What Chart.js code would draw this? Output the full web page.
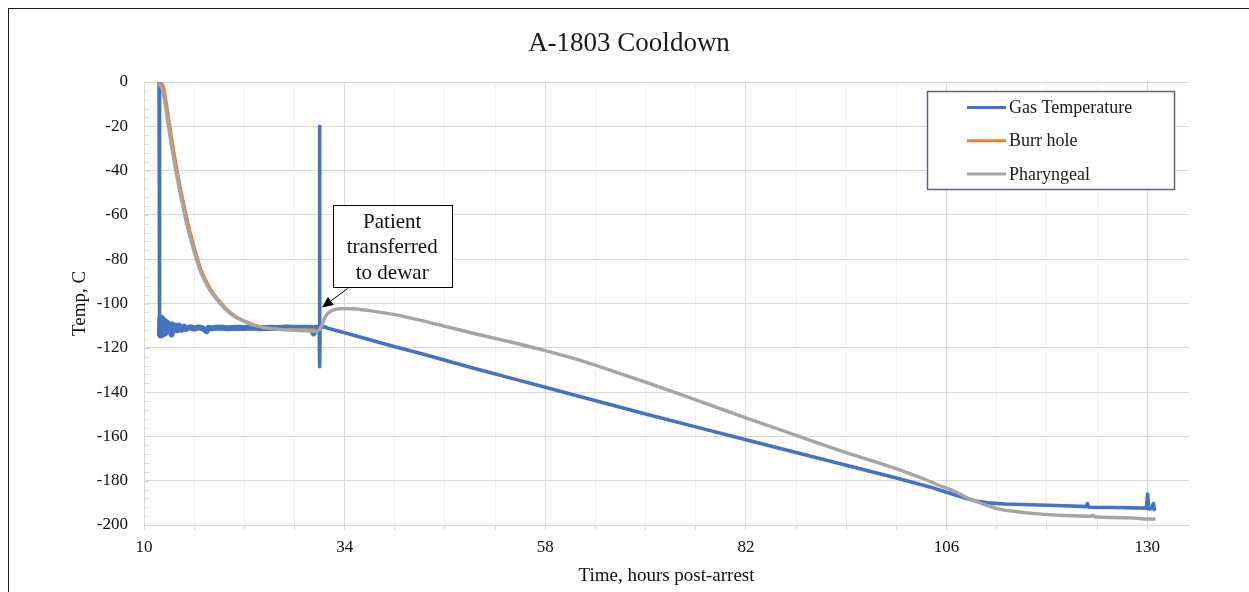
<!DOCTYPE html>
<html><head><meta charset="utf-8">
<script src="https://cdn.jsdelivr.net/npm/chart.js@4.4.1/dist/chart.umd.min.js"></script>
<style>
html,body{margin:0;padding:0;background:#fff;overflow:hidden;}
#wrap{position:relative;width:1249px;height:592px;overflow:hidden;}
#frame{position:absolute;left:8px;top:8px;width:1300px;height:700px;border:1.5px solid #1a1a1a;box-sizing:border-box;}
canvas{position:absolute;left:0;top:0;}
</style></head><body>
<div id="wrap"><div id="frame"></div><canvas id="c" width="1249" height="592"></canvas></div>
<script>
// ---- Data (hours post-arrest, temperature in C) ----
const chartTitle = 'A-1803 Cooldown';
const xTitle = 'Time, hours post-arrest';
const yTitle = 'Temp, C';
const seriesNames = ['Gas Temperature', 'Burr hole', 'Pharyngeal'];

const gasHours = [
  11.80,11.83,11.86,11.9,11.95,12.0,12.05,12.1,12.15,12.2,
  12.25,12.3,12.35,12.4,12.5,12.6,12.7,12.8,12.9,13.0,
  13.1,13.2,13.3,13.4,13.6,13.8,14.0,14.2,14.5,14.8,
  15.0,15.5,16.0,16.5,17.0,17.5,17.7,18.0,19.0,20.0,
  21.0,22.0,23.0,24.0,25.0,26.0,27.0,28.0,29.0,30.0,
  30.3,30.5,30.8,30.95,31.0,31.03,31.06,31.3,31.6,32,
  34,37,40,43,46,50,54,58,62,64.5,
  70,76,82,88,94,100,104,106,108,109.5,
  111,113,117,120,122.7,122.85,123.0,126,129.9,130.05,
  130.2,130.5,130.75,130.85,131.0];
const gasTemps = [
  0,-60,-104,-114.5,-106.5,-114.5,-106.5,-114,-107,-114,
  -107.5,-113.5,-107.5,-113.5,-108,-113,-108.5,-112.5,-109,-112.5,
  -109.5,-112,-114,-109.5,-112,-110,-112,-110,-111.8,-110.5,
  -111.5,-110.7,-111.3,-110.8,-111.2,-112.5,-111,-111.2,-110.8,-111.2,
  -110.9,-111.1,-110.8,-111.2,-110.9,-111.1,-110.8,-111,-110.9,-111,
  -113.5,-111,-111,-110.5,-20,-128.5,-110,-110.8,-110.5,-111.2,
  -113.2,-116.4,-119.5,-122.5,-125.6,-129.8,-133.8,-137.8,-141.9,-144.4,
  -149.9,-155.7,-161.5,-167.3,-173,-178.8,-182.8,-185.2,-187.6,-189.2,
  -190,-190.5,-191,-191.3,-191.7,-190.3,-192,-192.1,-192.4,-186,
  -192.8,-192.5,-190.3,-193,-192.7];

const burrHours = [12.0,12.2,12.35,12.6,13.0,13.5,14.0,14.3,14.5,15.0,15.3,15.5,16.0,16.3,16.5,17.0,17.5,18.0,19.0,20.0,21.0,22.0,23.0,23.5,24.5,26.2,28.0,30.5];
const burrTemps = [-0.5,-1,-2,-7,-17,-29,-40,-46,-50,-58.5,-64,-67,-74,-78,-80.5,-86,-90,-93.5,-98.6,-102.8,-105.8,-107.8,-109.3,-110,-110.8,-111.6,-111.7,-111.8];

const pharHours = [11.7,11.9,12.15,12.4,12.8,13.3,13.8,14.1,14.3,14.8,15.1,15.3,15.8,16.1,16.3,16.8,17.3,17.8,18.8,19.8,20.8,21.8,22.8,23.8,25,26.5,28,29.5,30.6,30.9,31.2,31.5,31.8,32.2,32.8,33.8,35,37,40,43,46,50,54,58,62,64.5,70,76,82,88,94,100.3,103,105.3,106.5,107.5,108.5,109.3,110.2,111,112.3,114,117,120,123.3,123.5,123.7,126,128.5,129.7,131];
const pharTemps = [-0.5,-1.5,-3,-7,-17,-29,-40,-46,-50,-58.5,-64,-67,-74,-78,-80.5,-86,-90,-93.5,-98.6,-102.8,-105.8,-107.8,-109.4,-110.4,-111.2,-111.8,-112.1,-112.3,-112.5,-112,-110.5,-107.5,-105.3,-103.8,-102.8,-102.3,-102.4,-103.2,-105,-107.5,-110.3,-114,-117.5,-121.3,-125.5,-128.5,-135.5,-143.5,-151.6,-159.5,-167.3,-175,-178.8,-182.4,-184,-185.8,-187.8,-189,-190.3,-191.4,-192.8,-193.8,-195,-195.7,-196.1,-195.6,-196.3,-196.6,-196.9,-197.3,-197.3];

// annotation, in data units
const noteLines = ['Patient', 'transferred', 'to dewar'];
const noteBox = {x0: 32.58, x1: 46.8, y0: -55.7, y1: -92.8};
const noteArrowFrom = {x: 34.37, y: -93.2};
const noteArrowTo = {x: 31.3, y: -101.8};

const xMin = 10, xMax = 135, xStep = 6, xLabelStep = 24;
const yMin = -200, yMax = 0, yStep = 4, yLabelStep = 20;
// hours range in which the gas reading is a noisy, thick band
const gasNoisyFrom = 11.88, gasNoisyTo = 30.96;

function pts(xs, ys) { return xs.map((x, i) => ({x: x, y: ys[i]})); }

const SERIF = "'Liberation Serif', 'Times New Roman', serif";

const titlePlugin = {
  id: 'titleText',
  afterDraw(chart) {
    const ctx = chart.ctx;
    ctx.save();
    ctx.font = '27px ' + SERIF;
    ctx.fillStyle = '#1a1a1a';
    ctx.textAlign = 'center';
    ctx.textBaseline = 'middle';
    ctx.fillText(chartTitle, 629, 44);
    ctx.restore();
  }
};

const minorTicks = {
  id: 'minorTicks',
  beforeDatasetsDraw(chart) {
    const ctx = chart.ctx, y = chart.scales.y, a = chart.chartArea;
    ctx.save();
    ctx.strokeStyle = '#d9d9d9';
    ctx.lineWidth = 1;
    y.ticks.forEach(t => {
      const py = Math.round(y.getPixelForValue(t.value)) + 0.5;
      ctx.beginPath(); ctx.moveTo(a.left, py); ctx.lineTo(a.left + 5, py); ctx.stroke();
    });
    ctx.restore();
  }
};

const legendBox = {
  id: 'legendBox',
  afterDatasetsDraw(chart) {
    const ctx = chart.ctx;
    const L = 927.5, T = 91.5, W = 247, H = 98;
    ctx.save();
    ctx.fillStyle = '#fff';
    ctx.fillRect(L, T, W, H);
    ctx.strokeStyle = '#596579';
    ctx.lineWidth = 1.5;
    ctx.strokeRect(L, T, W, H);
    ctx.font = '18px ' + SERIF;
    ctx.textBaseline = 'middle';
    ctx.textAlign = 'left';
    chart.data.datasets.forEach((ds, i) => {
      const yy = 107.5 + i * 33.2;
      ctx.strokeStyle = ds.borderColor;
      ctx.lineWidth = 3;
      ctx.beginPath(); ctx.moveTo(967, yy); ctx.lineTo(1006, yy); ctx.stroke();
      ctx.fillStyle = '#1a1a1a';
      ctx.fillText(ds.label, 1009, yy + 1);
    });
    ctx.restore();
  }
};

const annotationPlugin = {
  id: 'note',
  afterDatasetsDraw(chart) {
    const ctx = chart.ctx, xs = chart.scales.x, ys = chart.scales.y;
    const l = xs.getPixelForValue(noteBox.x0), r = xs.getPixelForValue(noteBox.x1);
    const t = ys.getPixelForValue(noteBox.y0), b = ys.getPixelForValue(noteBox.y1);
    ctx.save();
    ctx.fillStyle = '#fff';
    ctx.fillRect(l, t, r - l, b - t);
    ctx.strokeStyle = '#000';
    ctx.lineWidth = 1;
    ctx.strokeRect(Math.round(l) + 0.5, Math.round(t) + 0.5, Math.round(r - l), Math.round(b - t));
    ctx.font = '21px ' + SERIF;
    ctx.fillStyle = '#111';
    ctx.textAlign = 'center';
    ctx.textBaseline = 'middle';
    const cx = (l + r) / 2;
    noteLines.forEach((s, i) => ctx.fillText(s, cx, t + 17 + i * 25.5));
    // arrow
    const x1 = xs.getPixelForValue(noteArrowFrom.x), y1 = ys.getPixelForValue(noteArrowFrom.y);
    const x2 = xs.getPixelForValue(noteArrowTo.x), y2 = ys.getPixelForValue(noteArrowTo.y);
    const ang = Math.atan2(y2 - y1, x2 - x1);
    const hl = 11, hw = 5;
    const bx = x2 - hl * Math.cos(ang), by = y2 - hl * Math.sin(ang);
    ctx.beginPath(); ctx.moveTo(x1, y1); ctx.lineTo(bx, by); ctx.stroke();
    ctx.fillStyle = '#000';
    ctx.beginPath();
    ctx.moveTo(x2, y2);
    ctx.lineTo(bx + hw * Math.sin(ang), by - hw * Math.cos(ang));
    ctx.lineTo(bx - hw * Math.sin(ang), by + hw * Math.cos(ang));
    ctx.closePath(); ctx.fill();
    ctx.restore();
  }
};

new Chart(document.getElementById('c'), {
  type: 'line',
  data: {
    datasets: [
      {label: seriesNames[0], data: pts(gasHours, gasTemps), borderColor: '#4472C4', borderWidth: 3.6, pointRadius: 0, tension: 0, order: 3,
       borderJoinStyle: 'round',
       segment: {borderWidth: c => (c.p0.parsed.x >= gasNoisyFrom && c.p1.parsed.x <= gasNoisyTo ? 6 : undefined)}},
      {label: seriesNames[1], data: pts(burrHours, burrTemps), borderColor: '#ED7D31', borderWidth: 2.6, pointRadius: 0, cubicInterpolationMode: 'monotone', order: 2},
      {label: seriesNames[2], data: pts(pharHours, pharTemps), borderColor: '#A5A5A5', borderWidth: 3.4, pointRadius: 0, cubicInterpolationMode: 'monotone', order: 1}
    ]
  },
  options: {
    responsive: false,
    animation: false,
    layout: {padding: {left: 55, right: 60, top: 82, bottom: 0}},
    plugins: {legend: {display: false}, title: {display: false}, tooltip: {enabled: false}},
    scales: {
      x: {
        type: 'linear', min: xMin, max: xMax,
        afterBuildTicks: s => {
          const t = [];
          for (let v = xMin; v <= xMax; v += xStep) t.push({value: v});
          s.ticks = t;
        },
        ticks: {
          autoSkip: false, maxRotation: 0, minRotation: 0,
          callback: v => ((v - xMin) % xLabelStep === 0 ? String(v) : ''),
          font: {family: SERIF, size: 17}, color: '#111', padding: 7
        },
        grid: {
          color: c => (c.tick && (c.tick.value - xMin) % xLabelStep === 0 ? '#d9d9d9' : '#efefef'),
          tickColor: '#d9d9d9', tickLength: 5, lineWidth: 1
        },
        border: {color: '#d9d9d9'},
        title: {display: true, text: xTitle, font: {family: SERIF, size: 19}, color: '#111', padding: {top: 0, bottom: 5}},
        afterFit: s => { s.height = 67; }
      },
      y: {
        type: 'linear', min: yMin, max: yMax,
        ticks: {
          stepSize: yStep, autoSkip: false,
          callback: v => (v % yLabelStep === 0 ? String(v) : ''),
          font: {family: SERIF, size: 17}, color: '#111', padding: 16
        },
        grid: {
          color: c => (c.tick && c.tick.value % yLabelStep === 0 ? '#d9d9d9' : 'rgba(0,0,0,0)'),
          drawTicks: false, lineWidth: 1
        },
        border: {color: '#d9d9d9'},
        title: {display: true, text: yTitle, font: {family: SERIF, size: 19}, color: '#111', padding: {top: 14, bottom: 0}},
        afterFit: s => { s.width = 89; }
      }
    }
  },
  plugins: [minorTicks, legendBox, annotationPlugin, titlePlugin]
});
</script>
</body></html>
